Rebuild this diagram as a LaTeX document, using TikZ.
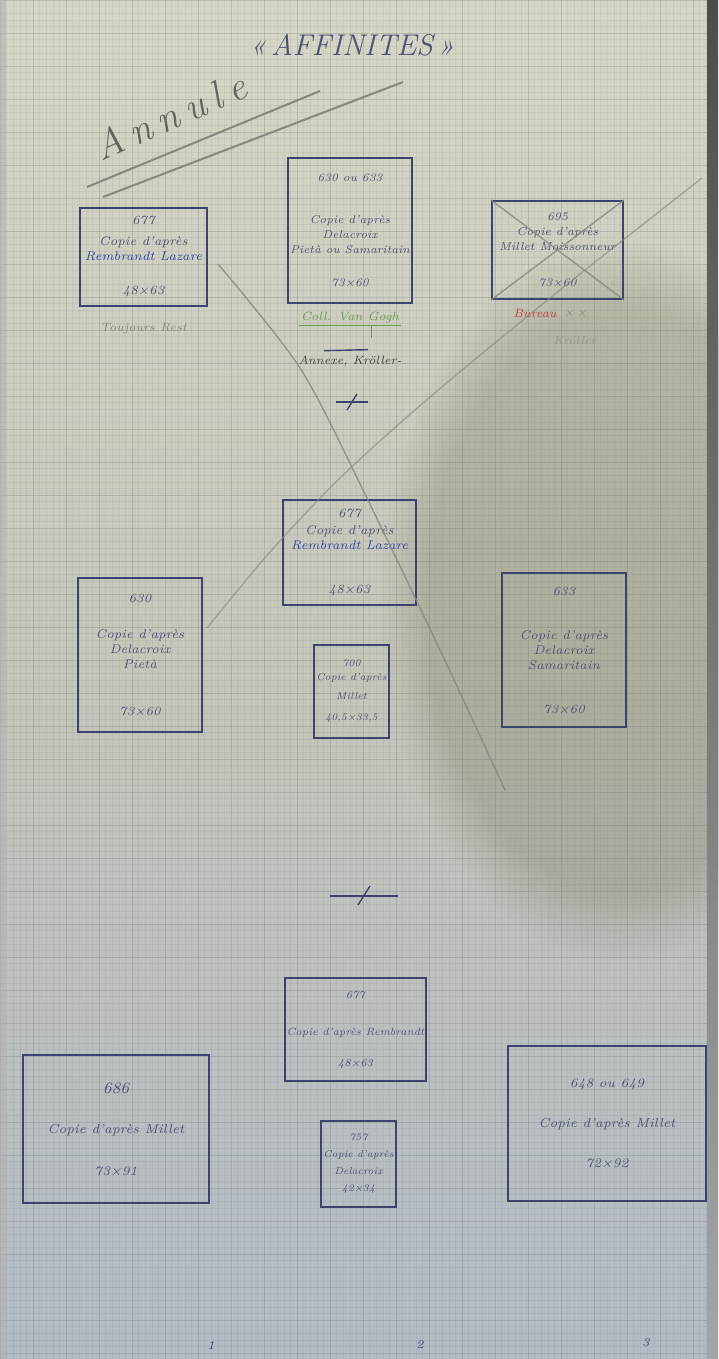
\documentclass[tikz,border=0pt]{standalone}
\usepackage{xcolor}
\usepackage{tikz}
\usetikzlibrary{positioning,calc,fadings}

\definecolor{ink}{RGB}{62,66,110}
\definecolor{inktext}{RGB}{78,82,118}
\definecolor{inkblue}{RGB}{52,68,165}
\definecolor{pencil}{RGB}{135,135,128}
\definecolor{paperTop}{RGB}{214,214,198}
\definecolor{paperMid}{RGB}{196,198,186}
\definecolor{paperBot}{RGB}{178,186,196}
\definecolor{gridline}{RGB}{110,115,112}
\definecolor{greennote}{RGB}{105,158,78}
\definecolor{rednote}{RGB}{205,58,58}

\begin{document}
\begin{tikzpicture}[x=0.5pt, y=-0.5pt,
  card/.style={draw=ink, line width=1pt, align=center, text=inktext,
    font=\fontsize{6.3}{7.5}\selectfont\itshape, inner sep=1pt},
  smallcard/.style={card, font=\fontsize{5}{7}\selectfont\itshape},
  note/.style={font=\fontsize{6}{7}\selectfont\itshape, inner sep=1pt},
  pencil/.style={draw=pencil, line width=0.7pt},
  penline/.style={draw=ink, line width=0.7pt},
  gridfine/.style={draw=gridline, line width=0.2pt, opacity=0.1},
  gridmajor/.style={draw=gridline, line width=0.35pt, opacity=0.17}
]
\useasboundingbox (0,0) rectangle (718,1359);

% paper and its squares
\fill[top color=paperTop, bottom color=paperBot, middle color=paperMid] (0,0) rectangle (718,1359);
\fill[black!55!olive, opacity=0.2, path fading=circle with fuzzy edge 20 percent]
  (620,600) ellipse (240 and 360);
\foreach \gx in {0,6.6,...,718} \draw[gridfine] (\gx,0) -- (\gx,1359);
\foreach \gy in {0,6.6,...,1359} \draw[gridfine] (0,\gy) -- (718,\gy);
\foreach \gx in {0,33,...,718} \draw[gridmajor] (\gx,0) -- (\gx,1359);
\foreach \gy in {0,33,...,1359} \draw[gridmajor] (0,\gy) -- (718,\gy);
\fill[top color=black!70, bottom color=black!35] (707,0) rectangle (718,1359);
\fill[black!30, opacity=0.6] (0,0) rectangle (6,1359);

% title
\node[font=\fontsize{15}{15}\selectfont\itshape, text=inktext] (title) at (352,45) {«\,AFFINITES\,»};
\node[rotate=24, font=\fontsize{20}{20}\selectfont\itshape, text=pencil!75!black] (annule) at (170,116)
  {A\kern4pt n\kern4pt n\kern4pt u\kern4pt l\kern4pt e};
\coordinate (cut1a) at (87,187);
\coordinate (cut1b) at (320,91);
\coordinate (cut2a) at (103,197);
\coordinate (cut2b) at (403,82);
\draw[pencil, line width=1pt] (cut1a) -- (cut1b);
\draw[pencil, line width=1pt] (cut2a) -- (cut2b);

% first row
\node[card, minimum width=63.5pt, minimum height=49pt] (b1) at (143.5,257)
  {677\\[3pt] Copie d'après\\ {\color{inkblue}Rembrandt Lazare}\\[9.5pt] 48×63};
\node[card, minimum width=60pt, minimum height=72.5pt,
  font=\fontsize{5.7}{7.5}\selectfont\itshape] (b2) at (350,230.5)
  {630 ou 633\\[13.5pt] Copie d'après\\ Delacroix\\ Pietà ou Samaritain\\[9pt] 73×60};
\node[card, minimum width=65.5pt, minimum height=49pt,
  font=\fontsize{5.8}{7.5}\selectfont\itshape] (b3) at (557.5,250)
  {695\\ Copie d'après\\ Millet Moissonneur\\[10.5pt] 73×60};
\draw[pencil, opacity=0.8] (b3.north west) -- (b3.south east);
\draw[pencil, opacity=0.8] (b3.south west) -- (b3.north east);

\node[note, text=pencil, below=7pt of b1] (b1note) {Toujours Rest};
\node[note, text=greennote, below=3pt of b2] (b2note) {Coll. Van Gogh};
\draw[greennote, line width=0.6pt] (b2note.south west) -- (b2note.south east);
\draw[pencil] ($(b2note.south east)+(-30,0)$) -- ++(0,12);
\node[note, text=black!75, below=14pt of b2note] (b2sub) {Annexe, Kröller-};
\draw[penline] ($(b2sub.north)+(-26,-3)$) -- ($(b2sub.north)+(18,-4)$);
\node[note, text=rednote] (b3red) at (535,313) {Bureau};
\node[note, text=pencil, right=1pt of b3red] (b3x) {×\,×};
\node[note, text=pencil!85] (b3sub) at (575,340) {Kröller};

% separator
\coordinate (sep1) at (352,402);
\draw[penline] ($(sep1)+(-16,0)$) -- ($(sep1)+(16,0)$);
\draw[penline] ($(sep1)+(-5,8)$) -- ($(sep1)+(5,-8)$);

% second row
\node[card, minimum width=66.5pt, minimum height=52.5pt] (m1) at (349.5,552.5)
  {677\\[1pt] Copie d'après\\ {\color{inkblue}Rembrandt Lazare}\\[14.5pt] 48×63};
\node[card, minimum width=62pt, minimum height=77pt] (m2) at (140,655)
  {630\\[10.5pt] Copie d'après\\ Delacroix\\ Pietà\\[16pt] 73×60};
\node[card, minimum width=62pt, minimum height=77pt] (m3) at (564,650)
  {633\\[14.5pt] Copie d'après\\ Delacroix\\ Samaritain\\[14.5pt] 73×60};
\node[smallcard, minimum width=36.5pt, minimum height=46.5pt] (m4) at (351.5,691.5)
  {700\\ Copie d'après\\[2.5pt] Millet\\[3.5pt] 40,5×33,5};

% pencil strokes across the sheet
\coordinate (strokeA) at (218,264);
\coordinate (strokeAend) at (505,790);
\coordinate (strokeB) at (702,178);
\coordinate (strokeBend) at (207,628);
\draw[pencil, opacity=0.8] plot[smooth] coordinates
  {(strokeA) (300,368) (363,490) (440,650) (strokeAend)};
\draw[pencil, opacity=0.6] plot[smooth] coordinates
  {(strokeB) (560,290) (430,397) (340,478) (270,552) (strokeBend)};

% separator
\coordinate (sep2) at (364,896);
\draw[penline] ($(sep2)+(-34,0)$) -- ($(sep2)+(34,0)$);
\draw[penline] ($(sep2)+(-6,9)$) -- ($(sep2)+(6,-10)$);

% third row
\node[card, minimum width=67.5pt, minimum height=51.5pt,
  font=\fontsize{5.3}{7}\selectfont\itshape] (l1) at (355.5,1029.5)
  {677\\[11.5pt] Copie d'après Rembrandt\\[8.5pt] 48×63};
\node[card, minimum width=93pt, minimum height=74pt,
  font=\fontsize{6.5}{8}\selectfont\itshape] (l2) at (116,1129)
  {{\fontsize{8}{8}\selectfont 686}\\[12pt] Copie d'après Millet\\[13pt] 73×91};
\node[smallcard, minimum width=37.5pt, minimum height=43pt] (l3) at (358.5,1164)
  {757\\[1.5pt] Copie d'après\\[1.5pt] Delacroix\\[1.5pt] 42×34};
\node[card, minimum width=99pt, minimum height=77.5pt,
  font=\fontsize{6.5}{8}\selectfont\itshape] (l4) at (607,1123.5)
  {648 ou 649\\[12pt] Copie d'après Millet\\[12pt] 72×92};

% page numbers
\node[note, text=ink] (p1) at (211,1345) {1};
\node[note, text=ink] (p2) at (420,1345) {2};
\node[note, text=ink] (p3) at (646,1343) {3};
\end{tikzpicture}
\end{document}
